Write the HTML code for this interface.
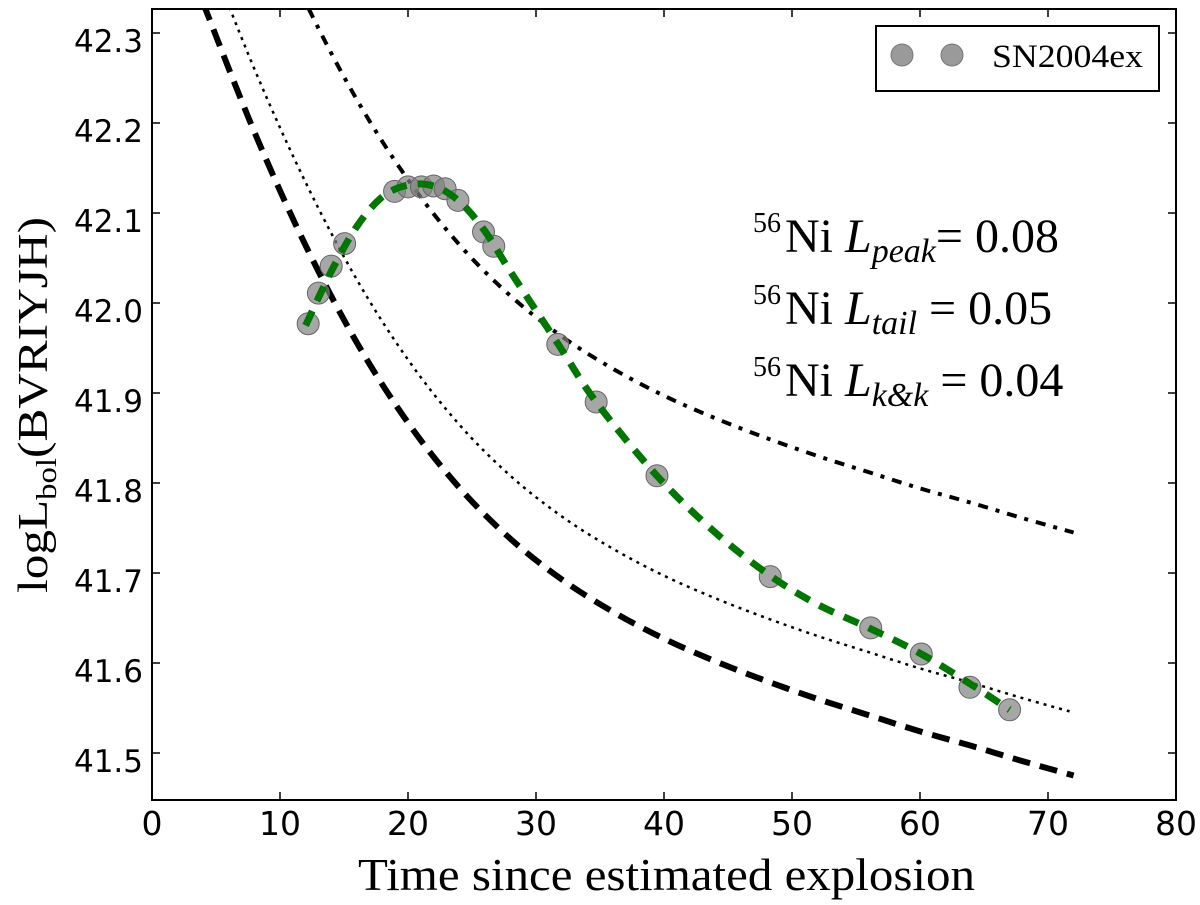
<!DOCTYPE html>
<html><head><meta charset="utf-8"><style>
body{margin:0;background:#fff}
svg text{font-family:"DejaVu Sans","Liberation Sans",sans-serif}
svg text.serif{font-family:"Liberation Serif","DejaVu Serif",serif}
</style></head><body>
<svg id="chart" width="1200" height="900" viewBox="0 0 1200 900" xmlns="http://www.w3.org/2000/svg">
<defs><clipPath id="clip"><rect x="152" y="9" width="1024" height="791"/></clipPath></defs>
<rect x="0" y="0" width="1200" height="900" fill="#fff"/>
<g id="marks" clip-path="url(#clip)"></g>
<rect x="152" y="9" width="1024" height="791" fill="none" stroke="#000" stroke-width="2"/>
<g id="ticks"></g>
<text class="serif" x="358" y="890" font-size="46" textLength="617" lengthAdjust="spacingAndGlyphs">Time since estimated explosion</text>
<text class="serif" transform="translate(47,593) rotate(-90)" font-size="42" textLength="376" lengthAdjust="spacingAndGlyphs">logL<tspan font-size="28" dy="9">bol</tspan><tspan dy="-9">(BVRIYJH)</tspan></text>
<g>
<rect x="876" y="26" width="283" height="65" fill="#fff" stroke="#000" stroke-width="2"/>
<circle cx="902" cy="55" r="11" fill="#888" fill-opacity="0.85" stroke="#777"/>
<circle cx="952" cy="55" r="11" fill="#888" fill-opacity="0.85" stroke="#777"/>
<text class="serif" x="992" y="67" font-size="33" textLength="151" lengthAdjust="spacingAndGlyphs">SN2004ex</text>
</g>
<g>
<text class="serif" font-size="48" x="753" y="252"><tspan font-size="28" dy="-20">56</tspan><tspan dy="20" dx="4">Ni </tspan><tspan font-style="italic">L</tspan><tspan font-style="italic" font-size="34" dy="10">peak</tspan><tspan dy="-10">= 0.08</tspan></text>
<text class="serif" font-size="48" x="753" y="324"><tspan font-size="28" dy="-20">56</tspan><tspan dy="20" dx="4">Ni </tspan><tspan font-style="italic">L</tspan><tspan font-style="italic" font-size="34" dy="10">tail</tspan><tspan dy="-10"> = 0.05</tspan></text>
<text class="serif" font-size="48" x="753" y="396"><tspan font-size="28" dy="-20">56</tspan><tspan dy="20" dx="4">Ni </tspan><tspan font-style="italic">L</tspan><tspan font-style="italic" font-size="34" dy="10">k&amp;k</tspan><tspan dy="-10"> = 0.04</tspan></text>
</g>
</svg>
<script>
const modelTimes=[4,8,12,16,20,24,28,32,36,40,44,48,52,56,60,64,68,72];
const dashedLum=[42.333,42.190,42.064,41.956,41.867,41.795,41.738,41.693,41.657,41.627,41.602,41.580,41.560,41.542,41.524,41.508,41.491,41.475];
const dottedLum=[42.403,42.260,42.134,42.026,41.937,41.865,41.808,41.763,41.727,41.697,41.672,41.650,41.630,41.612,41.594,41.578,41.561,41.545];
const dashdotLum=[42.603,42.460,42.334,42.226,42.137,42.065,42.008,41.963,41.927,41.897,41.872,41.850,41.830,41.812,41.794,41.778,41.761,41.745];
const obsTimes=[12.2,13.0,14.0,15.05,18.95,20.0,21.05,22.0,22.9,23.9,25.9,26.7,31.7,34.7,39.45,48.3,56.15,60.1,63.9,67.0];
const obsLum=[41.977,42.011,42.041,42.066,42.124,42.129,42.129,42.130,42.127,42.114,42.079,42.063,41.954,41.890,41.808,41.696,41.639,41.610,41.573,41.548];
const fitTimes=[12.0,14.0,16.0,18.0,20.0,22.0,24.0,26.0,28.0,31.7,34.7,39.45,44.0,48.3,52.0,56.15,60.1,63.9,67.0];
const fitLum=[41.975,42.035,42.085,42.118,42.131,42.130,42.113,42.080,42.035,41.955,41.890,41.808,41.745,41.697,41.665,41.638,41.610,41.577,41.548];
const xTicks=[0,10,20,30,40,50,60,70,80];
const yTicks=[41.5,41.6,41.7,41.8,41.9,42.0,42.1,42.2,42.3];
const NS='http://www.w3.org/2000/svg';
function X(t){return 152+t*12.8;}
function Y(v){return 753-(v-41.5)*900;}
function mk(tag,attrs,parent){const e=document.createElementNS(NS,tag);for(const k in attrs)e.setAttribute(k,attrs[k]);parent.appendChild(e);return e;}
function spline(ts,vs){const p=ts.map((t,i)=>[X(t),Y(vs[i])]);let d='M'+p[0][0]+','+p[0][1];
for(let i=0;i<p.length-1;i++){const p0=p[Math.max(0,i-1)],p1=p[i],p2=p[i+1],p3=p[Math.min(p.length-1,i+2)];
const c1=[p1[0]+(p2[0]-p0[0])/6,p1[1]+(p2[1]-p0[1])/6],c2=[p2[0]-(p3[0]-p1[0])/6,p2[1]-(p3[1]-p1[1])/6];
d+=' C'+c1[0]+','+c1[1]+' '+c2[0]+','+c2[1]+' '+p2[0]+','+p2[1];}return d;}
const marks=document.getElementById('marks');
let e;
e=mk('path',{d:spline(modelTimes,dashedLum),fill:'none',stroke:'#000','stroke-width':6,'stroke-dasharray':'18,10'},marks);


e=mk('path',{d:spline(modelTimes,dottedLum),fill:'none',stroke:'#000','stroke-width':2.5,'stroke-dasharray':'3,5'},marks);


e=mk('path',{d:spline(modelTimes,dashdotLum),fill:'none',stroke:'#000','stroke-width':4,'stroke-dasharray':'10,8,4,8'},marks);


obsTimes.forEach((t,i)=>{
const c=mk('circle',{cx:X(t),cy:Y(obsLum[i]),r:11,fill:'#808080','fill-opacity':0.7,stroke:'#666','stroke-width':1},marks);


});
e=mk('path',{d:spline(fitTimes,fitLum),fill:'none',stroke:'#007700','stroke-width':7,'stroke-dasharray':'16,11'},marks);


const tk=document.getElementById('ticks');
xTicks.forEach(t=>{
const l=mk('line',{x1:X(t),x2:X(t),y1:800,y2:792,stroke:'#000','stroke-width':1.5},tk);


const l2=mk('line',{x1:X(t),x2:X(t),y1:9,y2:17,stroke:'#000','stroke-width':1.5},tk);


const tx=mk('text',{x:X(t),y:835,'font-size':33,'text-anchor':'middle'},tk);tx.textContent=t;


});
yTicks.forEach(v=>{
const l=mk('line',{x1:152,x2:160,y1:Y(v),y2:Y(v),stroke:'#000','stroke-width':1.5},tk);


const l2=mk('line',{x1:1176,x2:1168,y1:Y(v),y2:Y(v),stroke:'#000','stroke-width':1.5},tk);


const tx=mk('text',{x:143,y:Y(v)+19,'font-size':31,'text-anchor':'end'},tk);tx.textContent=v.toFixed(1);


});
</script>
</body></html>
